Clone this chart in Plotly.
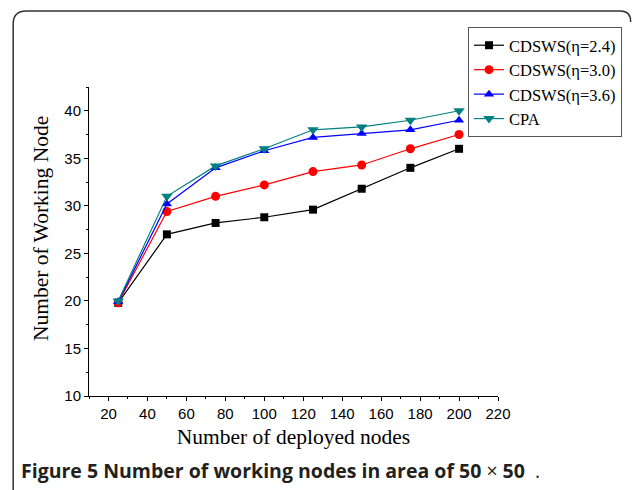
import plotly.graph_objects as go

x_nodes = [25, 50, 75, 100, 125, 150, 175, 200]
cdsws_24 = [19.8, 27.0, 28.2, 28.8, 29.6, 31.8, 34.0, 36.0]
cdsws_30 = [19.8, 29.4, 31.0, 32.2, 33.6, 34.3, 36.0, 37.5]
cdsws_36 = [19.9, 30.2, 34.0, 35.8, 37.2, 37.6, 38.0, 39.0]
cpa = [20.0, 31.0, 34.2, 36.0, 38.0, 38.3, 39.0, 40.0]

series_names = ["CDSWS(η=2.4)", "CDSWS(η=3.0)", "CDSWS(η=3.6)", "CPA"]
x_ticks = [20, 40, 60, 80, 100, 120, 140, 160, 180, 200, 220]
y_ticks = [10, 15, 20, 25, 30, 35, 40]

W, H = 633, 490
L, R, T, B = 89, 134, 87, 94
PW, PH = W - L - R, H - T - B

def px(x):
    return (x - L) / PW

def py(y):
    return (H - B - y) / PH

styles = [
    dict(color="#000000", symbol="square", size=8),
    dict(color="#ff0000", symbol="circle", size=9),
    dict(color="#0000ff", symbol="triangle-up", size=9),
    dict(color="#008080", symbol="triangle-down", size=10),
]

fig = go.Figure()
for name, vals, st in zip(series_names, [cdsws_24, cdsws_30, cdsws_36, cpa], styles):
    fig.add_trace(go.Scatter(
        x=x_nodes, y=vals, name=name, mode="lines+markers",
        line=dict(color=st["color"], width=1.2),
        marker=dict(color=st["color"], symbol=st["symbol"], size=st["size"]),
    ))

axis_font = dict(family="Liberation Sans, Arial", size=15, color="#000")
title_font = dict(family="Liberation Serif, Times New Roman", size=21.5, color="#000")

fig.update_xaxes(
    range=[10, 220], tickvals=x_ticks, showline=True, linecolor="#000", linewidth=1,
    ticks="outside", ticklen=4, tickcolor="#000", showgrid=False, zeroline=False,
    tickfont=axis_font, title=dict(text="Number of deployed nodes", font=title_font, standoff=7),
    minor=dict(dtick=10, tick0=10, ticks="outside", ticklen=2, tickcolor="#000"),
)
fig.update_yaxes(
    range=[10, 42.5], tickvals=y_ticks, showline=True, linecolor="#000", linewidth=1,
    ticks="outside", ticklen=4, tickcolor="#000", showgrid=False, zeroline=False,
    tickfont=axis_font,
    minor=dict(dtick=2.5, tick0=10, ticks="outside", ticklen=2, tickcolor="#000"),
)

# y-axis title placed as a rotated annotation
fig.add_annotation(
    xref="paper", yref="paper", x=px(41), y=py(229), xanchor="center", yanchor="middle",
    text="Number of Working Node", textangle=-90, showarrow=False, font=title_font,
)

# rounded frame around the figure
frame_path = (
    f"M {px(13)},{py(490)} L {px(13)},{py(24)} "
    f"Q {px(13)},{py(11)} {px(26)},{py(11)} "
    f"L {px(622)},{py(11)} Q {px(632)},{py(11)} {px(632)},{py(22)}"
)
fig.add_shape(type="path", xref="paper", yref="paper", path=frame_path,
              line=dict(color="#333", width=1.5))

fig.add_annotation(
    xref="paper", yref="paper", x=px(19), y=py(471), xanchor="left", yanchor="middle",
    text="<b>Figure 5 Number of working nodes in area of 50</b> × <b>50</b>  .",
    showarrow=False, font=dict(family="Open Sans, Noto Sans, sans-serif", size=19.5, color="#231f20"),
)

fig.update_layout(
    width=W, height=H, margin=dict(l=L, r=R, t=T, b=B),
    paper_bgcolor="white", plot_bgcolor="white",
    legend=dict(
        x=px(468), y=py(27), xanchor="left", yanchor="top",
        bordercolor="#555", borderwidth=1, bgcolor="white",
        font=dict(family="Liberation Serif, Times New Roman", size=16.5, color="#000"),
        tracegroupgap=0, itemwidth=30,
    ),
)

fig.write_html("out.html")
